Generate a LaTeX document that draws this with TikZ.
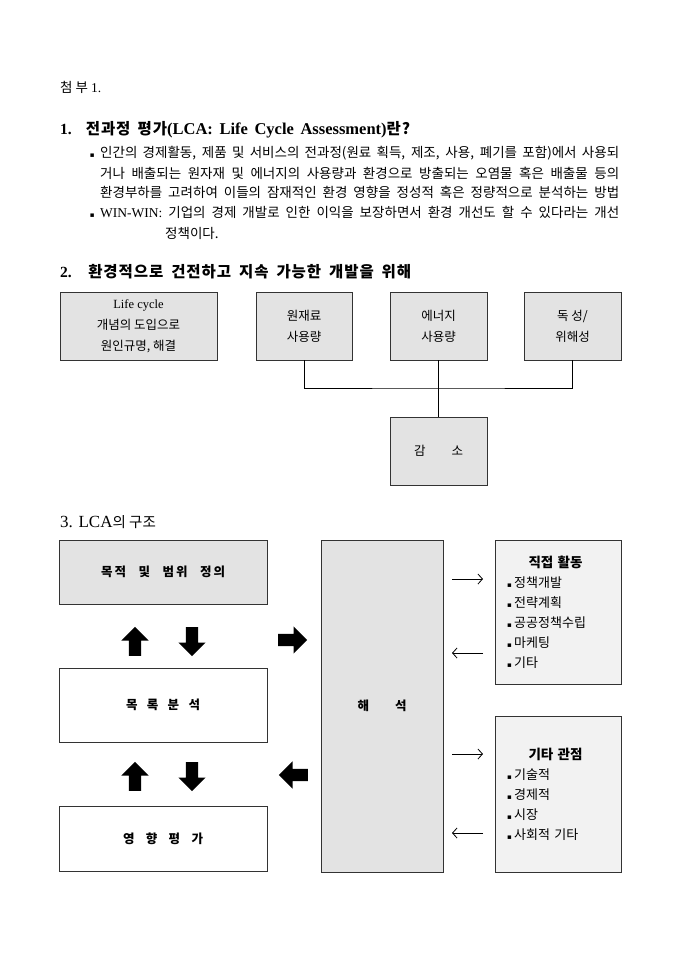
\documentclass[tikz,border=0pt]{standalone}
\usepackage{fontspec}
\setmainfont{Noto Sans CJK KR}
\newfontfamily\lat{Liberation Serif}
\newfontfamily\sym{DejaVu Sans}
\usepackage{tikz}
\usetikzlibrary{positioning}
\usetikzlibrary{arrows.meta}
\usetikzlibrary{shapes.arrows}

\newcommand{\sq}{{\sym\fontsize{7}{7}\selectfont ▪}\hspace{2.5pt}}

\begin{document}
\begin{tikzpicture}[
    x=1pt, y=-1pt,
    font=\fontsize{13.5}{15}\selectfont,
    line/.style={
        anchor=west,
        inner sep=0pt
    },
    head/.style={
        anchor=west,
        inner sep=0pt,
        font=\bfseries\fontsize{15.5}{17}\selectfont\addfontfeature{LetterSpace=6}
    },
    greybox/.style={
        draw=black!80,
        line width=0.8pt,
        fill=black!11,
        align=center,
        inner sep=0pt,
        font=\fontsize{12.5}{21}\selectfont
    },
    plainbox/.style={
        greybox,
        fill=white,
        font=\bfseries\fontsize{12.5}{14}\selectfont
    },
    listbox/.style={
        draw=black!80,
        line width=0.8pt,
        fill=black!5,
        align=left,
        text width=102pt,
        inner xsep=12pt,
        inner ysep=0pt,
        font=\fontsize{13}{20}\selectfont
    },
    blockarrow/.style={
        single arrow,
        fill=black,
        anchor=tail,
        inner xsep=0pt,
        inner ysep=6pt,
        minimum height=29pt,
        single arrow head extend=7.5pt,
        single arrow head indent=0pt
    },
    thinarrow/.style={
        line width=0.8pt,
        -{Straight Barb[length=4.5pt,width=10pt]}
    },
    link/.style={
        draw=black,
        line width=0.7pt
    }
]
\useasboundingbox (0,0) rectangle (680,962);

% --- Heading
\node[line] (attach) at (60,87) {첨 부 {\lat 1.}};

% --- Section 1
\node[head] (sec1) at (60,130) {\makebox[350pt][s]{{\lat 1.} 전과정 평가{\lat\fontsize{16.5}{17}\selectfont (LCA: Life Cycle Assessment)}란?}};
\node[line] (p1) at (100,153) {\llap{\sq\hspace{3pt}}\makebox[519pt][s]{인간의 경제활동, 제품 및 서비스의 전과정(원료 획득, 제조, 사용, 폐기를 포함)에서 사용되}};
\node[line] (p2) at (100,173) {\makebox[519pt][s]{거나 배출되는 원자재 및 에너지의 사용량과 환경으로 방출되는 오염물 혹은 배출물 등의}};
\node[line] (p3) at (100,192) {\makebox[519pt][s]{환경부하를 고려하여 이들의 잠재적인 환경 영향을 정성적 혹은 정량적으로 분석하는 방법}};
\node[line] (p4) at (100,212) {\llap{\sq\hspace{3pt}}\makebox[519pt][s]{{\lat WIN-WIN:} 기업의 경제 개발로 인한 이익을 보장하면서 환경 개선도 할 수 있다라는 개선}};
\node[line] (p5) at (165,233) {정책이다.};

% --- Section 2
\node[head] (sec2) at (60,272) {\makebox[351pt][s]{{\lat 2.} 환경적으로 건전하고 지속 가능한 개발을 위해}};

\node[greybox, minimum width=157pt, minimum height=68pt] (cycle) at (138.5,326) {{\lat Life cycle}\\개념의 도입으로\\원인규명, 해결};
\node[greybox, minimum width=96pt, minimum height=68pt] (raw) at (304,326) {원재료\\사용량};
\node[greybox, minimum width=97pt, minimum height=68pt] (energy) at (438.5,326) {에너지\\사용량};
\node[greybox, minimum width=97pt, minimum height=68pt] (toxic) at (572.5,326) {독 성/\\위해성};
\node[greybox, minimum width=97pt, minimum height=68pt] (reduce) at (438.5,451) {감\hspace{26pt}소};

\coordinate (join) at (438.5,388);
\draw[link] (raw.south) |- (join) -| (toxic.south);
\draw[link] (energy.south) -- (reduce.north);

% --- Section 3
\node[line, font=\fontsize{14.5}{17}\selectfont] (sec3) at (60,522) {{\lat\fontsize{17}{17}\selectfont 3. LCA}의 구조};

\node[greybox, minimum width=208pt, minimum height=64pt, font=\bfseries\fontsize{12.5}{14}\selectfont\addfontfeature{LetterSpace=16}] (goal) at (163,572) {\makebox[124pt][s]{목적 및 범위 정의}};
\node[plainbox, minimum width=208pt, minimum height=74pt] (inventory) at (163,705) {\makebox[74pt][s]{목 록 분 석}};
\node[plainbox, minimum width=208pt, minimum height=65pt] (impact) at (163,838.5) {\makebox[80pt][s]{영 향 평 가}};
\node[greybox, minimum width=122pt, minimum height=332pt, font=\bfseries\fontsize{12.5}{14}\selectfont] (interp) at (382,706) {해\hspace{26pt}석};

\node[listbox, minimum height=144pt] (direct) at (558,612) {\makebox[102pt]{\bfseries\fontsize{13.5}{20}\selectfont\makebox[59pt][s]{직접 활동}}\\
\sq 정책개발\\
\sq 전략계획\\
\sq 공공정책수립\\
\sq 마케팅\\
\sq 기타};
\node[listbox, minimum height=156pt] (other) at (558,794) {\makebox[102pt]{\bfseries\fontsize{13.5}{20}\selectfont\makebox[59pt][s]{기타 관점}}\\
\sq 기술적\\
\sq 경제적\\
\sq 시장\\
\sq 사회적 기타};

% --- Block arrows
\node[blockarrow, rotate=90] (up1) at (135,656) {};
\node[blockarrow, rotate=-90] (down1) at (192,627) {};
\node[blockarrow, rotate=90] (up2) at (135,791) {};
\node[blockarrow, rotate=-90] (down2) at (192,762) {};
\node[blockarrow] (toright) at (278,640) {};
\node[blockarrow, rotate=180] (toleft) at (308,775) {};

% --- Thin arrows
\coordinate (a1) at (452,579);
\coordinate (b1) at (483,579);
\coordinate (a2) at (452,653);
\coordinate (b2) at (483,653);
\coordinate (a3) at (452,754);
\coordinate (b3) at (483,754);
\coordinate (a4) at (452,833);
\coordinate (b4) at (483,833);
\draw[thinarrow] (a1) -- (b1);
\draw[thinarrow] (b2) -- (a2);
\draw[thinarrow] (a3) -- (b3);
\draw[thinarrow] (b4) -- (a4);

\end{tikzpicture}
\end{document}
